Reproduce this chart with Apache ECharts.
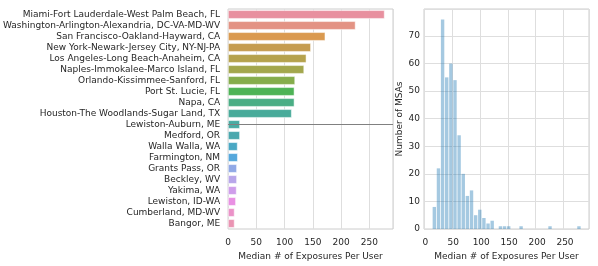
<!DOCTYPE html>
<html><head><meta charset="utf-8">
<script src="https://cdn.jsdelivr.net/npm/echarts@6/dist/echarts.min.js"></script>
<style>html,body{margin:0;padding:0;background:#fff}#c{width:598px;height:266px}</style>
</head><body><div id="c"></div>
<script>
// ---- data ----
const msaNames = [
  "Miami-Fort Lauderdale-West Palm Beach, FL",
  "Washington-Arlington-Alexandria, DC-VA-MD-WV",
  "San Francisco-Oakland-Hayward, CA",
  "New York-Newark-Jersey City, NY-NJ-PA",
  "Los Angeles-Long Beach-Anaheim, CA",
  "Naples-Immokalee-Marco Island, FL",
  "Orlando-Kissimmee-Sanford, FL",
  "Port St. Lucie, FL",
  "Napa, CA",
  "Houston-The Woodlands-Sugar Land, TX",
  "Lewiston-Auburn, ME",
  "Medford, OR",
  "Walla Walla, WA",
  "Farmington, NM",
  "Grants Pass, OR",
  "Beckley, WV",
  "Yakima, WA",
  "Lewiston, ID-WA",
  "Cumberland, MD-WV",
  "Bangor, ME"
];
const msaMedians = [277, 225.5, 172, 146.5, 138.5, 134.5, 118.5, 117.3, 117.3, 112.5,
                    20.8, 20.8, 16.7, 17, 15.5, 15.5, 14.9, 13.7, 11.3, 11.3];
const barColors = ["#e8909f","#e39384","#da9a50","#c59c50","#b5a24d","#a3a74d","#85ad4c","#4db356","#4aae85","#48ab9a",
                   "#49aba3","#4aa8ae","#4aa8c4","#55a8dc","#91a9e6","#b8a6ea","#cf9deb","#e990e3","#eb92c8","#ea94b3"];
const splitBetween = 9.5; // between top-10 and bottom-10
const histCenters = [16, 23.4, 30.8, 38.2, 45.6, 53, 60.4, 67.8, 75.2, 82.6, 90, 97.4, 104.8, 112.2, 119.6,
                     134.4, 141.8, 149.2, 171.4, 223.2, 275];
const histCounts  = [8, 22, 76, 55, 60, 54, 34, 20, 12, 14, 5, 7, 4, 2, 3,
                     1, 1, 1, 1, 1, 1];
const xTicks = [0, 50, 100, 150, 200, 250];
const yTicks = [0, 10, 20, 30, 40, 50, 60, 70];
const xLabel = "Median # of Exposures Per User";
const yLabel = "Number of MSAs";

const txt = "#262626", edge = "#cccccc", grid = "#dedede";
const font = "DejaVu Sans";
const fs = 9;

const chart = echarts.init(document.getElementById('c'), null, {renderer: 'canvas'});
chart.setOption({
  animation: false,
  textStyle: {fontFamily: font},
  grid: [
    {left: 228, top: 9, width: 165, height: 224, show: true, borderColor: edge, borderWidth: 1, backgroundColor: '#fff'},
    {left: 424, top: 9, width: 165, height: 224, show: true, borderColor: edge, borderWidth: 1, backgroundColor: '#fff'}
  ],
  xAxis: [
    {type: 'value', gridIndex: 0, min: 0, max: 292, interval: 50,
     axisLine: {show: false}, axisTick: {show: false},
     splitLine: {show: true, lineStyle: {color: grid, width: 1}},
     axisLabel: {color: txt, fontSize: fs, fontFamily: font, margin: 9, showMaxLabel: false,
                 formatter: v => xTicks.includes(v) ? String(v) : ''},
     name: xLabel, nameLocation: 'middle', nameGap: 23,
     nameTextStyle: {color: txt, fontSize: fs, fontFamily: font}},
    {type: 'value', gridIndex: 1, min: -2.5, max: 293, interval: 50,
     axisLine: {show: false}, axisTick: {show: false},
     splitLine: {show: true, lineStyle: {color: grid, width: 1}},
     axisLabel: {color: txt, fontSize: fs, fontFamily: font, margin: 9, showMinLabel: true,
                 customValues: xTicks},
     name: xLabel, nameLocation: 'middle', nameGap: 23,
     nameTextStyle: {color: txt, fontSize: fs, fontFamily: font}}
  ],
  yAxis: [
    {type: 'category', gridIndex: 0, data: msaNames, inverse: true,
     axisLine: {show: false}, axisTick: {show: false}, splitLine: {show: false},
     axisLabel: {color: txt, fontSize: fs, fontFamily: font, margin: 8, interval: 0}},
    {type: 'value', gridIndex: 1, min: 0, max: 79.8, interval: 10,
     axisLine: {show: false}, axisTick: {show: false},
     splitLine: {show: true, lineStyle: {color: grid, width: 1}},
     axisLabel: {color: txt, fontSize: fs, fontFamily: font, margin: 4, showMaxLabel: false,
                 formatter: v => yTicks.includes(v) ? String(v) : ''},
     name: yLabel, nameLocation: 'middle', nameGap: 19, nameRotate: 90,
     nameTextStyle: {color: txt, fontSize: fs, fontFamily: font}}
  ],
  series: [
    {type: 'bar', xAxisIndex: 0, yAxisIndex: 0, barWidth: '76%',
     data: msaMedians.map((v, i) => ({value: v, itemStyle: {color: barColors[i]}})),
     itemStyle: {borderColor: '#fff', borderWidth: 0.5},
     markLine: {silent: true, symbol: 'none', label: {show: false},
                lineStyle: {color: '#808080', width: 1, type: 'solid'},
                data: [{yAxis: splitBetween}]}},
    {type: 'bar', xAxisIndex: 1, yAxisIndex: 1, barWidth: 3.4,
     data: histCenters.map((c, i) => [c, histCounts[i]]),
     itemStyle: {color: 'rgba(31,119,180,0.4)'}}
  ]
});
</script></body></html>
